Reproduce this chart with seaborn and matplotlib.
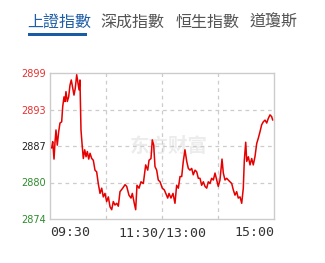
import matplotlib
matplotlib.use("Agg")
import matplotlib.pyplot as plt
import seaborn as sns
import pandas as pd
import numpy as np

# --- data ---
tabs = ["上證指數", "深成指數", "恒生指數", "道瓊斯"]
minutes = [1.8, 2.9, 4.3, 5.4, 6.4, 7.8, 9.3, 10.7, 12.5, 13.6, 15.0, 16.1, 17.1, 18.5,
           20.0, 21.4, 22.8, 24.3, 25.7, 27.1, 28.6, 30.0, 31.1, 32.1, 33.2, 34.6, 35.7,
           37.2, 38.6, 40.0, 41.5, 42.9, 44.7, 46.4, 48.2, 50.0, 51.7, 53.6, 55.4, 57.1,
           58.9, 60.7, 62.5, 64.3, 66.1, 67.8, 69.6, 71.5, 73.2, 75.0, 77.9, 80.4, 82.2,
           84.6, 86.8, 88.2, 90.3, 91.8, 93.2, 95.4, 97.5, 100.0, 102.5, 104.7, 106.1,
           108.2, 109.6, 111.1, 112.5, 114.3, 116.0, 117.9, 120.3, 122.5, 124.0, 126.1,
           127.5, 129.6, 131.8, 133.9, 135.7, 137.5, 139.3, 141.1, 142.8, 144.6, 146.5,
           148.2, 150.0, 151.8, 153.5, 155.4, 157.2, 158.9, 160.7, 162.5, 164.3, 166.1,
           167.9, 169.6, 171.4, 173.2, 175.0, 176.8, 178.6, 180.3, 182.1, 184.3, 185.7,
           187.5, 189.3, 191.0, 192.9, 194.7, 196.4, 198.2, 200.0, 201.7, 203.6, 205.4,
           207.1, 208.2, 209.7, 210.8, 212.5, 214.3, 216.1, 217.8, 219.6, 221.5, 223.2,
           225.0, 226.8, 228.5, 230.4, 232.2, 233.9, 235.7, 237.5, 238.6]
values = [2886.4, 2887.5, 2884.5, 2887.5, 2889.5, 2886.9, 2889.2, 2890.7, 2890.9, 2893.5,
          2895.2, 2894.4, 2896.1, 2894.4, 2895.2, 2897.2, 2898.1, 2896.7, 2895.5, 2896.7,
          2899.0, 2897.5, 2896.4, 2898.1, 2889.5, 2886.6, 2884.6, 2886.1, 2884.9, 2885.8,
          2884.5, 2885.5, 2884.6, 2884.3, 2882.6, 2882.3, 2880.3, 2878.6, 2879.5, 2878.0,
          2878.6, 2877.2, 2878.0, 2876.3, 2875.8, 2877.2, 2876.6, 2876.9, 2876.4, 2878.9,
          2879.5, 2880.1, 2879.8, 2878.3, 2877.8, 2878.6, 2876.9, 2875.8, 2880.0, 2879.5,
          2880.6, 2880.3, 2883.5, 2882.6, 2884.3, 2884.6, 2887.8, 2886.9, 2883.2, 2882.6,
          2880.9, 2880.6, 2879.5, 2879.2, 2878.6, 2877.8, 2878.6, 2877.8, 2878.6, 2876.9,
          2880.0, 2879.5, 2881.5, 2881.5, 2884.1, 2886.1, 2884.1, 2882.9, 2882.6, 2882.9,
          2881.8, 2882.6, 2882.3, 2881.2, 2881.2, 2880.0, 2880.6, 2879.8, 2879.5, 2880.6,
          2880.3, 2881.2, 2880.9, 2882.1, 2880.9, 2879.8, 2880.9, 2884.5, 2882.1, 2880.9,
          2881.2, 2880.9, 2880.6, 2880.3, 2879.2, 2878.3, 2878.9, 2877.8, 2878.0, 2876.9,
          2879.5, 2884.3, 2887.4, 2884.1, 2884.9, 2883.5, 2884.6, 2883.5, 2884.9, 2887.2,
          2888.1, 2889.2, 2890.4, 2890.9, 2891.2, 2890.7, 2891.5, 2892.1, 2891.8, 2891.2]
y_tick_labels = ["2874", "2880", "2887", "2893", "2899"]
y_tick_colors = ["#2e8b2e", "#2e8b2e", "#222222", "#e83030", "#e83030"]
x_tick_labels = ["09:30", "11:30/13:00", "15:00"]
x_tick_pos = [0, 120, 240]

df = pd.DataFrame({"minute": minutes, "value": values})

sns.set_style("white")
plt.rcParams['font.family'] = ['DejaVu Sans']

fig = plt.figure(figsize=(3.25, 2.63), dpi=100)
fig.patch.set_facecolor("white")
ax = fig.add_axes([50/325, 44/263, 224/325, 146/263])

ymin, ymax = 2874.2, 2899.3
ax.set_xlim(0, 240)
ax.set_ylim(ymin, ymax)

# watermark
ax.text(0.53, 0.50, "东方财富", transform=ax.transAxes, ha="center", va="center",
        fontsize=14, fontweight="bold", color="#ececec",
        family=["Noto Sans CJK SC", "DejaVu Sans"], zorder=0)

sns.lineplot(data=df, x="minute", y="value", ax=ax, color="#e60000", linewidth=1.1,
             zorder=3)

yt = np.linspace(ymin, ymax, 5)
ax.set_yticks(yt)
ax.set_yticklabels(y_tick_labels, fontsize=7)
for lbl, c in zip(ax.get_yticklabels(), y_tick_colors):
    lbl.set_color(c)
ax.set_xticks([60, 120, 180])
ax.set_xticklabels([])
ax.tick_params(length=0, pad=3)
ax.set_xlabel("")
ax.set_ylabel("")

for v in yt[1:-1]:
    ax.axhline(v, color="#cccccc", lw=0.9, ls=(0, (3, 3)), zorder=1)
for m in [60, 120, 180]:
    ax.axvline(m, color="#cccccc", lw=0.9, ls=(0, (3, 3)), zorder=1)

for s in ax.spines.values():
    s.set_color("#cccccc")
    s.set_linewidth(1.0)

# x labels
for pos, lab, ha in zip(x_tick_pos, x_tick_labels, ["left", "center", "right"]):
    ax.text(pos, -0.05, lab, transform=ax.get_xaxis_transform(), ha=ha, va="top",
            fontsize=9.5, color="#333333", family=["DejaVu Sans Mono"])

# tabs
tab_x = [27, 100, 176, 250]
tab_colors = ["#1f5fa6", "#555555", "#555555", "#555555"]
for x, t, c in zip(tab_x, tabs, tab_colors):
    fig.text(x/325, 1 - 22/263, t, ha="left", va="center", fontsize=11.5, color=c,
             family=["Noto Sans CJK TC", "DejaVu Sans"])
fig.add_artist(plt.Rectangle((28/325, 1 - 36/263), 59/325, 2.6/263,
                             transform=fig.transFigure, color="#1a5ba6", lw=0))

fig.savefig("out.png", dpi=100)
